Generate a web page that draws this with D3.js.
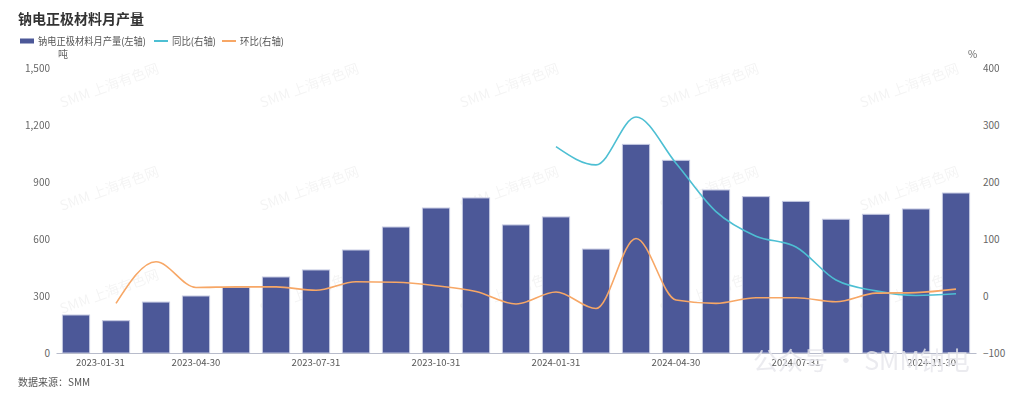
<!DOCTYPE html>
<html>
<head>
<meta charset="utf-8">
<script src="https://cdn.jsdelivr.net/npm/d3@7"></script>
<style>
  body { margin: 0; background: #fff; }
  svg { display: block; font-family: "Noto Sans CJK SC", "Noto Sans", sans-serif; }
</style>
</head>
<body>
<div id="chart"></div>
<script>
// dados
const months = ["2023-01-31","2023-02-28","2023-03-31","2023-04-30","2023-05-31","2023-06-30",
  "2023-07-31","2023-08-31","2023-09-30","2023-10-31","2023-11-30","2023-12-31",
  "2024-01-31","2024-02-29","2024-03-31","2024-04-30","2024-05-31","2024-06-30",
  "2024-07-31","2024-08-31","2024-09-30","2024-10-31","2024-11-30"];
const shownTicks = ["2023-01-31","2023-04-30","2023-07-31","2023-10-31","2024-01-31","2024-04-30","2024-07-31","2024-11-30"];
const output = [200,170,268,300,345,400,437,542,663,763,816,674,716,547,1098,1014,858,823,798,704,730,758,842];
const yoy = [null,null,null,null,null,null,null,null,null,null,null,null,262,230,314,233,148,105,86,28,9,1,4];
const mom = [null,-13,60,15,16,16,10,25,24,18,8,-14,7,-22,101,-7,-13,-3,-3,-10,5,6,12];
const leftTicks = [0,300,600,900,1200,1500];
const rightTicks = [-100,0,100,200,300,400];

const W = 1024, H = 399;
const plot = {left: 56, right: 976, top: 68, bottom: 353};

const svg = d3.select("#chart").append("svg")
    .attr("width", W).attr("height", H);

const x = d3.scaleBand().domain(months).range([plot.left, plot.right]).paddingInner(0.32).paddingOuter(0.16);
const xc = d => x(d) + x.bandwidth() / 2;
const yL = d3.scaleLinear().domain([0, 1500]).range([plot.bottom, plot.top]);
const yR = d3.scaleLinear().domain([-100, 400]).range([plot.bottom, plot.top]);

// marca d'água
const wm = svg.append("g").attr("fill", "#000").attr("opacity", 0.045).attr("font-size", 14);
for (let i = 0; i < 5; i++) {
  for (let j = 0; j < 3; j++) {
    wm.append("text")
      .attr("transform", `translate(${62 + i * 200},${108 + j * 103}) rotate(-20)`)
      .text("SMM 上海有色网");
  }
}

// título
svg.append("text").attr("x", 18).attr("y", 24)
  .attr("font-size", 14).attr("font-weight", "bold").attr("fill", "#333")
  .text("钠电正极材料月产量");

// legenda
const lg = svg.append("g").attr("font-size", 10).attr("fill", "#555");
lg.append("rect").attr("x", 20).attr("y", 38.5).attr("width", 14).attr("height", 5).attr("fill", "#4c5898");
lg.append("text").attr("x", 38).attr("y", 45).attr("textLength", 108).attr("lengthAdjust", "spacingAndGlyphs").text("钠电正极材料月产量(左轴)");
lg.append("line").attr("x1", 154).attr("x2", 168).attr("y1", 41).attr("y2", 41).attr("stroke", "#4dbfd3").attr("stroke-width", 2);
lg.append("text").attr("x", 172).attr("y", 45).attr("textLength", 44).attr("lengthAdjust", "spacingAndGlyphs").text("同比(右轴)");
lg.append("line").attr("x1", 222).attr("x2", 236).attr("y1", 41).attr("y2", 41).attr("stroke", "#f7a766").attr("stroke-width", 2);
lg.append("text").attr("x", 240).attr("y", 45).attr("textLength", 44).attr("lengthAdjust", "spacingAndGlyphs").text("环比(右轴)");

// unidades
svg.append("text").attr("x", 58).attr("y", 58).attr("font-size", 10).attr("fill", "#666").text("吨");
svg.append("text").attr("x", 968).attr("y", 58).attr("font-size", 10).attr("fill", "#666").text("%");

// eixos
const axisL = svg.append("g").attr("transform", `translate(${plot.left},0)`)
  .call(d3.axisLeft(yL).tickValues(leftTicks).tickSize(0).tickPadding(6).tickFormat(d3.format(",")));
axisL.select(".domain").remove();
const axisR = svg.append("g").attr("transform", `translate(${plot.right},0)`)
  .call(d3.axisRight(yR).tickValues(rightTicks).tickSize(0).tickPadding(7));
axisR.select(".domain").remove();
svg.selectAll(".tick text").attr("font-size", 10).attr("fill", "#666").attr("font-family", "\"Noto Sans CJK SC\", sans-serif");

// barras
svg.append("g").selectAll("rect")
  .data(months)
  .join("rect")
  .attr("x", d => x(d))
  .attr("width", x.bandwidth())
  .attr("y", (d, i) => yL(output[i]))
  .attr("height", (d, i) => plot.bottom - yL(output[i]))
  .attr("fill", "#4c5898")
  .attr("stroke", "#c5c9e2")
  .attr("stroke-width", 1);

const axisX = svg.append("g").attr("transform", `translate(0,${plot.bottom})`)
  .call(d3.axisBottom(x).tickValues(shownTicks).tickSize(0).tickPadding(6));
axisX.select(".domain").attr("stroke", "#b8bccb");
axisX.selectAll(".tick text").attr("font-size", 9.5).attr("fill", "#555").attr("font-family", "\"Noto Sans CJK SC\", sans-serif")
  .attr("text-anchor", (d, i, n) => i === 0 ? "start" : i === n.length - 1 ? "end" : "middle");

// linhas
const line = d3.line()
  .defined(d => d.v !== null)
  .x(d => xc(d.m))
  .y(d => yR(d.v))
  .curve(d3.curveMonotoneX);

svg.append("path")
  .datum(months.map((m, i) => ({m, v: yoy[i]})))
  .attr("fill", "none").attr("stroke", "#4dbfd3").attr("stroke-width", 1.6)
  .attr("d", line);
svg.append("path")
  .datum(months.map((m, i) => ({m, v: mom[i]})))
  .attr("fill", "none").attr("stroke", "#f7a766").attr("stroke-width", 1.6)
  .attr("d", line);

// fonte
svg.append("text").attr("x", 18).attr("y", 386).attr("font-size", 10).attr("fill", "#555").text("数据来源：SMM");

// marca do wechat
svg.append("text").attr("x", 753).attr("y", 370).attr("font-size", 25)
  .attr("fill", "#e6e6ec").attr("opacity", 0.8)
  .text("公众号 · SMM钠电");
</script>
</body>
</html>
